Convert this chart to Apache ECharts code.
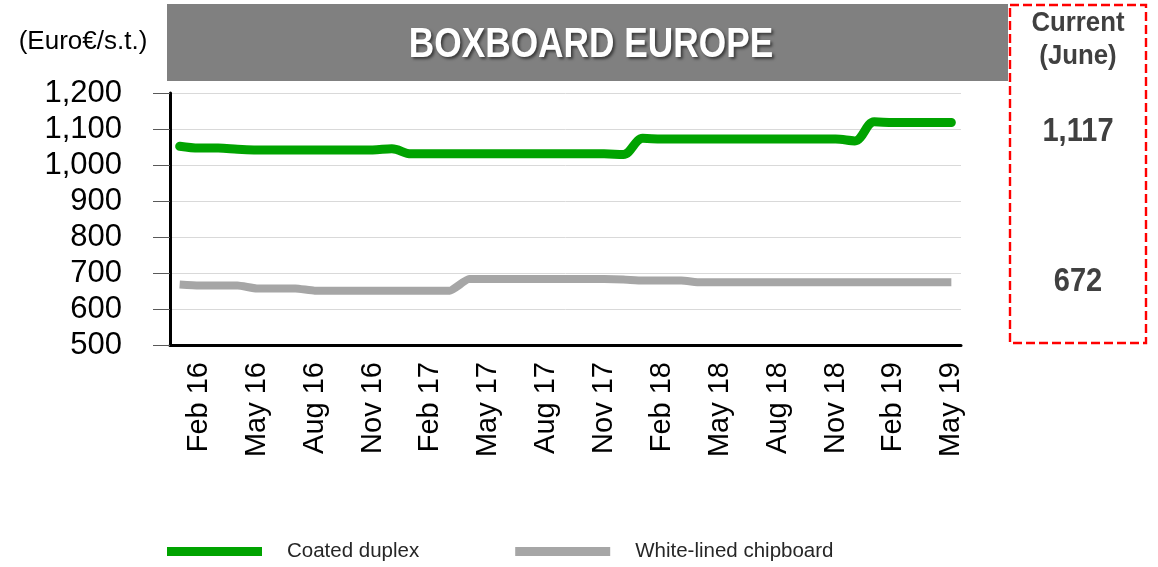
<!DOCTYPE html>
<html>
<head>
<meta charset="utf-8">
<script src="https://cdn.jsdelivr.net/npm/echarts@6/dist/echarts.min.js"></script>
<style>
  html, body { margin: 0; padding: 0; background: #fff; }
  #chart { width: 1158px; height: 567px; }
</style>
</head>
<body>
<div id="chart"></div>
<script>
// monthly, Jan 16 .. May 19
var months = ['Jan', 'Feb', 'Mar', 'Apr', 'May', 'Jun', 'Jul', 'Aug', 'Sep', 'Oct', 'Nov', 'Dec']
var categories = []
for (var y = 16; y <= 19; y++) {
  for (var m = 0; m < 12; m++) {
    if (y === 19 && m > 4) break
    categories.push(months[m] + ' ' + y)
  }
}

var coatedDuplex = [
  1052, 1047, 1047, 1044, 1042, 1042, 1042, 1042, 1042, 1042, 1042, 1045,
  1031, 1031, 1031, 1031, 1031, 1031, 1031, 1031, 1031, 1031, 1031, 1029,
  1074, 1072, 1072, 1072, 1072, 1072, 1072, 1072, 1072, 1072, 1072, 1067,
  1120, 1118, 1118, 1118, 1118
]
var whiteLinedChipboard = [
  668, 665, 665, 665, 657, 657, 657, 651, 651, 651, 651, 651,
  651, 651, 651, 683, 683, 683, 683, 683, 683, 683, 683, 682,
  679, 679, 679, 674, 674, 674, 674, 674, 674, 674, 674, 674,
  674, 674, 674, 674, 674
]
var seriesNames = ['Coated duplex', 'White-lined chipboard']
var currentLabel = ['Current', '(June)']
var currentValues = ['1,117', '672']

var font = "'Liberation Sans', Arial, sans-serif"
var chart = echarts.init(document.getElementById('chart'))

// small helper for the boxed texts (narrowed a bit like the original)
function boxText (text, x, y, size, sx) {
  return {
    type: 'text',
    x: x, y: y,
    scaleX: sx,
    style: {
      text: text,
      font: 'bold ' + size + 'px ' + font,
      fill: '#404040',
      align: 'center',
      verticalAlign: 'middle'
    }
  }
}

var option = {
  animation: false,
  grid: {
    left: 170,
    right: 197,
    top: 93,
    bottom: 222,
    containLabel: false
  },
  legend: {
    data: seriesNames,
    left: 162,
    top: 536,
    icon: 'rect',
    itemWidth: 95,
    itemHeight: 9,
    itemGap: 96,
    textStyle: {
      fontFamily: font,
      fontSize: 20.5,
      color: '#262626',
      padding: [0, 0, 0, 20]
    }
  },
  xAxis: {
    type: 'category',
    data: categories,
    boundaryGap: true,
    axisLine: { lineStyle: { color: '#000', width: 3 } },
    axisTick: {
      alignWithLabel: true,
      interval: 0,
      length: 13,
      lineStyle: { color: '#808080', width: 1 }
    },
    axisLabel: {
      rotate: 90,
      margin: 17,
      interval: function (idx) { return idx % 3 === 1 },
      fontFamily: font,
      fontSize: 29,
      color: '#000'
    },
    splitLine: { show: false }
  },
  yAxis: {
    type: 'value',
    min: 500,
    max: 1200,
    interval: 100,
    axisLine: { show: true, lineStyle: { color: '#000', width: 3 } },
    axisTick: { show: true, length: 17, lineStyle: { color: '#595959', width: 1 } },
    axisLabel: {
      margin: 48,
      padding: [5, 0, 0, 0],
      fontFamily: font,
      fontSize: 31,
      color: '#000',
      formatter: function (v) { return v.toLocaleString('en-US') }
    },
    splitLine: { lineStyle: { color: '#d9d9d9', width: 1 } }
  },
  series: [
    {
      name: seriesNames[0],
      type: 'line',
      data: coatedDuplex,
      symbol: 'none',
      smooth: 0.35,
      color: '#00a300',
      lineStyle: { color: '#00a300', width: 9, cap: 'round', join: 'round' },
      z: 3
    },
    {
      name: seriesNames[1],
      type: 'line',
      data: whiteLinedChipboard,
      symbol: 'none',
      smooth: 0.15,
      color: '#a6a6a6',
      lineStyle: { color: '#a6a6a6', width: 8, cap: 'butt', join: 'miter' },
      z: 2
    }
  ],
  graphic: [
    {
      type: 'rect',
      z: -1,
      shape: { x: 167, y: 4, width: 841, height: 77 },
      style: { fill: '#808080' }
    },
    {
      type: 'text',
      x: 591, y: 45,
      scaleX: 0.82,
      style: {
        text: 'BOXBOARD EUROPE',
        font: 'bold 43px ' + font,
        fill: '#fff',
        align: 'center',
        verticalAlign: 'middle',
        textShadowColor: 'rgba(0,0,0,0.55)',
        textShadowBlur: 3,
        textShadowOffsetX: 2,
        textShadowOffsetY: 2
      }
    },
    {
      type: 'text',
      x: 83, y: 42,
      style: {
        text: '(Euro€/s.t.)',
        font: '26px ' + font,
        fill: '#000',
        align: 'center',
        verticalAlign: 'middle'
      }
    },
    {
      type: 'rect',
      shape: { x: 1010, y: 5, width: 136, height: 338 },
      style: { fill: 'none', stroke: '#ff0000', lineWidth: 2.4, lineDash: [9, 4] }
    },
    boxText(currentLabel[0], 1078, 23, 28, 0.92),
    boxText(currentLabel[1], 1078, 56, 28, 0.92),
    boxText(currentValues[0], 1078, 132, 33, 0.88),
    boxText(currentValues[1], 1078, 282, 33, 0.88)
  ]
}

chart.setOption(option)
</script>
</body>
</html>
